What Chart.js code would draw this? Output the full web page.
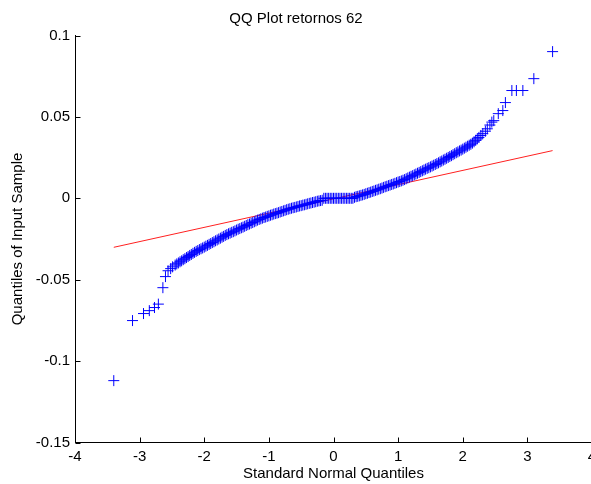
<!DOCTYPE html>
<html>
<head>
<meta charset="utf-8">
<script src="https://cdn.jsdelivr.net/npm/chart.js@4.4.1/dist/chart.umd.min.js"></script>
<style>
  html, body { margin: 0; padding: 0; background: #fff; }
  #wrap { width: 591px; height: 484px; overflow: hidden; position: relative; }
</style>
</head>
<body>
<div id="wrap"><canvas id="c" width="620" height="484"></canvas></div>
<script>
// ---- data ----
const chartTitle = 'QQ Plot retornos 62';
const xAxisTitle = 'Standard Normal Quantiles';
const yAxisTitle = 'Quantiles of Input Sample';

const xTickValues = [-4, -3, -2, -1, 0, 1, 2, 3, 4];
const xTickLabels = ['-4', '-3', '-2', '-1', '0', '1', '2', '3', '4'];
const yTickValues = [-0.15, -0.1, -0.05, 0, 0.05, 0.1];
const yTickLabels = ['-0.15', '-0.1', '-0.05', '0', '0.05', '0.1'];

// theoretical (standard normal) quantiles
const sampleX = [
  -3.40, -3.11, -2.94, -2.85, -2.77, -2.71, -2.64, -2.60, -2.56, -2.52, -2.49,
  -2.450, -2.425, -2.400, -2.375, -2.350, -2.325, -2.300, -2.275, -2.250, -2.225,
  -2.200, -2.175, -2.150, -2.125, -2.100, -2.075, -2.050, -2.025, -2.000, -1.975,
  -1.950, -1.925, -1.900, -1.875, -1.850, -1.825, -1.800, -1.775, -1.750, -1.725,
  -1.700, -1.675, -1.650, -1.625, -1.600, -1.575, -1.550, -1.525, -1.500, -1.475,
  -1.450, -1.425, -1.400, -1.375, -1.350, -1.325, -1.300, -1.275, -1.250, -1.225,
  -1.200, -1.175, -1.150, -1.125, -1.100, -1.075, -1.050, -1.025, -1.000, -0.975,
  -0.950, -0.925, -0.900, -0.875, -0.850, -0.825, -0.800, -0.775, -0.750, -0.725,
  -0.700, -0.675, -0.650, -0.625, -0.600, -0.575, -0.550, -0.525, -0.500, -0.475,
  -0.450, -0.425, -0.400, -0.375, -0.350, -0.325, -0.300, -0.275, -0.250, -0.225,
  -0.200, -0.175,
  -0.150, -0.125, -0.100, -0.075, -0.050, -0.025, 0.000, 0.025, 0.050, 0.075,
  0.100, 0.125, 0.150, 0.175, 0.200, 0.225, 0.250, 0.275, 0.300,
  0.325, 0.350, 0.375, 0.400, 0.425, 0.450, 0.475, 0.500, 0.525, 0.550,
  0.575, 0.600, 0.625, 0.650, 0.675, 0.700, 0.725, 0.750, 0.775, 0.800,
  0.825, 0.850, 0.875, 0.900, 0.925, 0.950, 0.975, 1.000, 1.025, 1.050,
  1.075, 1.100, 1.125, 1.150, 1.175, 1.200, 1.225, 1.250, 1.275, 1.300,
  1.325, 1.350, 1.375, 1.400, 1.425, 1.450, 1.475, 1.500, 1.525, 1.550,
  1.575, 1.600, 1.625, 1.650, 1.675, 1.700, 1.725, 1.750, 1.775, 1.800,
  1.825, 1.850, 1.875, 1.900, 1.925, 1.950, 1.975, 2.000, 2.025, 2.050,
  2.075, 2.100, 2.125, 2.150, 2.175, 2.200, 2.225, 2.250,
  2.28, 2.31, 2.35, 2.38, 2.42, 2.45, 2.48, 2.55, 2.62, 2.66,
  2.76, 2.83, 2.93, 3.10, 3.39
];
// sample quantiles (returns)
const sampleY = [
  -0.1120, -0.0751, -0.0708, -0.0690, -0.0671, -0.0650, -0.0549, -0.0481, -0.0445, -0.0432, -0.0421,
  -0.0410, -0.0403, -0.0397, -0.0390, -0.0384, -0.0377, -0.0371, -0.0364, -0.0358, -0.0351,
  -0.0345, -0.0338, -0.0332, -0.0326, -0.0321, -0.0315, -0.0310, -0.0305, -0.0300, -0.0294,
  -0.0289, -0.0283, -0.0278, -0.0272, -0.0267, -0.0261, -0.0256, -0.0250, -0.0245, -0.0239,
  -0.0234, -0.0228, -0.0223, -0.0218, -0.0214, -0.0209, -0.0205, -0.0200, -0.0195, -0.0190,
  -0.0186, -0.0181, -0.0177, -0.0172, -0.0167, -0.0162, -0.0158, -0.0153, -0.0149, -0.0144,
  -0.0139, -0.0134, -0.0130, -0.0126, -0.0122, -0.0118, -0.0115, -0.0111, -0.0108, -0.0104,
  -0.0101, -0.0097, -0.0094, -0.0091, -0.0088, -0.0084, -0.0081, -0.0077, -0.0074, -0.0070,
  -0.0067, -0.0064, -0.0061, -0.0058, -0.0056, -0.0053, -0.0050, -0.0047, -0.0045, -0.0042,
  -0.0040, -0.0037, -0.0034, -0.0031, -0.0029, -0.0026, -0.0024, -0.0021, -0.0018, -0.0016,
  -0.0014, -0.0012,
  0, 0, 0, 0, 0, 0, 0, 0, 0, 0,
  0, 0, 0, 0, 0, 0, 0, 0, 0,
  0.0006, 0.0010, 0.0012, 0.0015, 0.0018, 0.0021, 0.0024, 0.0028, 0.0031, 0.0035,
  0.0038, 0.0042, 0.0045, 0.0049, 0.0052, 0.0056, 0.0059, 0.0063, 0.0067, 0.0071,
  0.0074, 0.0078, 0.0081, 0.0085, 0.0088, 0.0092, 0.0096, 0.0100, 0.0103, 0.0107,
  0.0111, 0.0115, 0.0120, 0.0125, 0.0130, 0.0135, 0.0139, 0.0144, 0.0149, 0.0154,
  0.0159, 0.0164, 0.0169, 0.0174, 0.0179, 0.0184, 0.0188, 0.0193, 0.0198, 0.0203,
  0.0208, 0.0213, 0.0218, 0.0224, 0.0229, 0.0235, 0.0240, 0.0246, 0.0251, 0.0257,
  0.0262, 0.0268, 0.0274, 0.0280, 0.0285, 0.0291, 0.0296, 0.0302, 0.0308, 0.0314,
  0.0320, 0.0326, 0.0332, 0.0339, 0.0347, 0.0356, 0.0365, 0.0374,
  0.0386, 0.0397, 0.0412, 0.0427, 0.0450, 0.0468, 0.0477, 0.0520, 0.0539, 0.0588,
  0.0662, 0.0662, 0.0662, 0.0735, 0.0901
];

// reference line (through quartiles, extended to the extreme quantiles)
const refLineX = [-3.40, 3.39];
const refLineY = [-0.0301, 0.0293];

// ---- chart ----
const FONT = '"Liberation Sans", Arial, Helvetica, sans-serif';
const points = sampleX.map((x, i) => ({ x: x, y: sampleY[i] }));
const linePts = refLineX.map((x, i) => ({ x: x, y: refLineY[i] }));

const inwardTicks = {
  id: 'inwardTicks',
  afterDraw(chart) {
    const ctx = chart.ctx;
    const xs = chart.scales.x, ys = chart.scales.y;
    const area = chart.chartArea;
    ctx.save();
    ctx.strokeStyle = '#000';
    ctx.lineWidth = 1;
    ctx.beginPath();
    xTickValues.forEach(v => {
      const px = Math.round(xs.getPixelForValue(v)) + 0.5;
      const by = Math.floor(area.bottom) + 0.5;
      ctx.moveTo(px, by);
      ctx.lineTo(px, by - 5);
    });
    yTickValues.forEach(v => {
      const py = Math.round(ys.getPixelForValue(v)) + 0.5;
      const lx = Math.floor(area.left) + 0.5;
      ctx.moveTo(lx, py);
      ctx.lineTo(lx + 5, py);
    });
    ctx.stroke();
    ctx.restore();
  }
};

new Chart(document.getElementById('c'), {
  type: 'scatter',
  data: {
    datasets: [
      {
        label: 'data',
        data: points,
        showLine: false,
        pointStyle: 'cross',
        pointRadius: 5.5,
        pointHoverRadius: 5.5,
        pointBorderWidth: 1,
        borderColor: '#0000ff',
        backgroundColor: '#0000ff',
        order: 0
      },
      {
        label: 'reference',
        data: linePts,
        showLine: true,
        borderColor: '#ff2020',
        borderWidth: 1,
        pointRadius: 0,
        fill: false,
        order: 1
      }
    ]
  },
  options: {
    responsive: false,
    animation: false,
    events: [],
    layout: { padding: { top: 0, left: 0, right: 28, bottom: 0 } },
    plugins: {
      legend: { display: false },
      tooltip: { enabled: false },
      title: {
        display: true,
        text: chartTitle,
        color: '#000',
        font: { family: FONT, size: 15, weight: 'normal' },
        padding: { top: 9.5, bottom: 8 }
      }
    },
    scales: {
      x: {
        type: 'linear',
        min: -4, max: 4,
        afterBuildTicks: s => { s.ticks = xTickValues.map(v => ({ value: v })); },
        afterFit: s => { s.height = 41.5; },
        ticks: {
          color: '#000',
          font: { family: FONT, size: 15 },
          padding: 5,
          maxRotation: 0,
          autoSkip: false,
          callback: (v, i) => xTickLabels[i]
        },
        grid: { display: true, drawOnChartArea: false, drawTicks: false, color: 'rgba(0,0,0,0)' },
        border: { display: true, color: '#000', width: 1 },
        title: {
          display: true,
          text: xAxisTitle,
          color: '#000',
          font: { family: FONT, size: 15 },
          padding: { top: 0, bottom: 1.3 }
        }
      },
      y: {
        type: 'linear',
        min: -0.15, max: 0.1,
        afterBuildTicks: s => { s.ticks = yTickValues.map(v => ({ value: v })); },
        afterFit: s => { s.width = 75; },
        ticks: {
          color: '#000',
          font: { family: FONT, size: 15 },
          padding: 5,
          autoSkip: false,
          callback: (v, i) => yTickLabels[i]
        },
        grid: { display: true, drawOnChartArea: false, drawTicks: false, color: 'rgba(0,0,0,0)' },
        border: { display: true, color: '#000', width: 1 },
        title: {
          display: true,
          text: yAxisTitle,
          color: '#000',
          font: { family: FONT, size: 15 },
          padding: { top: 8.5, bottom: 0 }
        }
      }
    }
  },
  plugins: [inwardTicks]
});
</script>
</body>
</html>
